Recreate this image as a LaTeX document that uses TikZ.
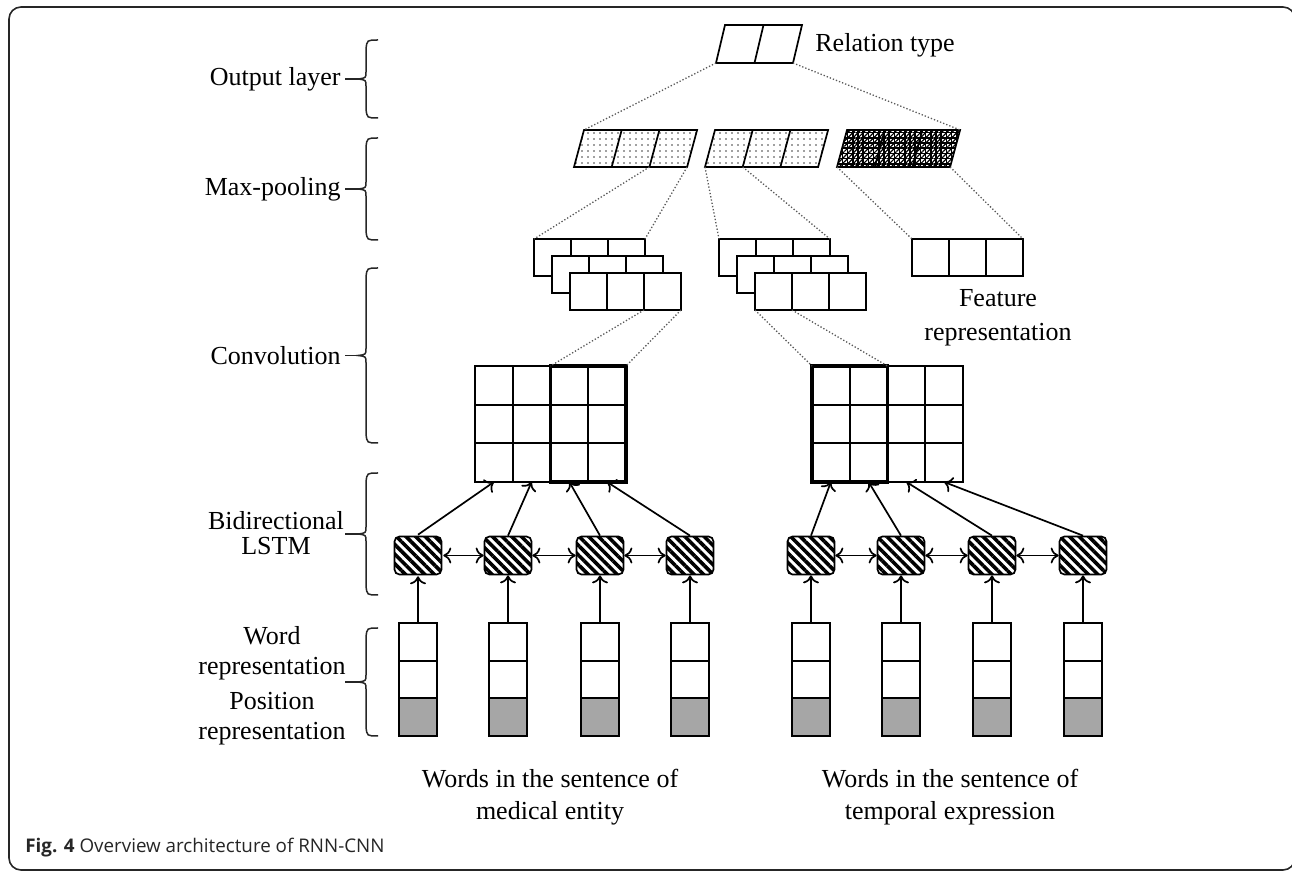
\documentclass[tikz,border=0pt]{standalone}
\usepackage{fontspec}
\setmainfont{Liberation Serif}
\newfontfamily\capfont{Open Sans}
\usetikzlibrary{arrows.meta,patterns.meta,calc}

\tikzset{
  box/.style={draw=black,line width=0.85pt},
  boldbox/.style={draw=black,line width=1.7pt},
  link/.style={draw=black!65,line width=0.65pt,densely dotted},
  arr/.style={draw=black,line width=0.85pt,-{To[length=4pt,width=8pt]}},
  biarr/.style={draw=black,line width=0.85pt,{To[length=4pt,width=8pt]}-{To[length=4pt,width=8pt]}},
  lstm/.style={draw=black,line width=0.85pt,rounded corners=2.5pt,minimum width=23.5pt,
    minimum height=19pt,inner sep=0pt,pattern={Lines[angle=-45,distance=3.4pt,line width=1.8pt]}},
  lbl/.style={font=\fontsize{13}{15}\selectfont,inner sep=0pt},
  bracestyle/.style={draw=black!85,line width=0.75pt},
  posfill/.style={fill=black!35},
  dotfill/.style={pattern={Dots[distance=3pt,radius=0.45pt]},pattern color=black!75},
}

% row of slanted cells: name, lower-left x, lower y, cells, cell width, height, slant, fill
\newcommand{\slantrow}[8]{%
  \foreach \k in {0,...,#4}{%
    \coordinate (#1-b\k) at ({#2+\k*#5},#3);
    \coordinate (#1-t\k) at ({#2+\k*#5+#7},{#3-#6});
  }
  \path[#8] (#1-b0) -- (#1-b#4) -- (#1-t#4) -- (#1-t0) -- cycle;
  \pgfmathtruncatemacro\lastcell{#4-1}
  \foreach \k in {1,...,\lastcell}{\draw[box] (#1-b\k) -- (#1-t\k);}
  \draw[box] (#1-b0) -- (#1-b#4) -- (#1-t#4) -- (#1-t0) -- cycle;
}

% row of square cells: name, left x, top y, cells, cell width, height
\newcommand{\cellrow}[6]{%
  \foreach \k in {0,...,#4}{%
    \coordinate (#1-t\k) at ({#2+\k*#5},#3);
    \coordinate (#1-b\k) at ({#2+\k*#5},{#3+#6});
  }
  \draw[box,fill=white] (#1-t0) rectangle (#1-b#4);
  \pgfmathtruncatemacro\lastcell{#4-1}
  \foreach \k in {1,...,\lastcell}{\draw[box] (#1-t\k) -- (#1-b\k);}
}

% 4 x 3 feature map: name, left x, top y
\newcommand{\fmap}[3]{%
  \foreach \c in {0,...,4}{%
    \coordinate (#1-t\c) at ({#2+\c*37.75},#3);
    \coordinate (#1-b\c) at ({#2+\c*37.75},{#3+116});
  }
  \foreach \c in {0,...,3}{\coordinate (#1-in\c) at ({#2+(\c+0.5)*37.75},{#3+116});}
  \draw[box] (#1-t0) rectangle (#1-b4);
  \foreach \c in {1,2,3}{\draw[box] (#1-t\c) -- (#1-b\c);}
  \foreach \r in {1,2}{\draw[box] ({#2},{#3+\r*38.67}) -- ({#2+151},{#3+\r*38.67});}
}

% layer brace: top y, bottom y, name of the tick end
\newcommand{\layerbrace}[3]{%
  \pgfmathsetmacro\bm{(#1+#2)/2}
  \coordinate (#3) at (345,\bm);
  \draw[bracestyle] (378,#1) .. controls (367,#1) .. (366,#1+9) -- (366,\bm-7)
    .. controls (366,\bm-1) .. (358,\bm) .. controls (366,\bm+1) .. (366,\bm+7)
    -- (366,#2-9) .. controls (367,#2) .. (378,#2);
  \draw[bracestyle] (358,\bm) -- (#3);
}

\begin{document}
\begin{tikzpicture}[x=0.5pt,y=-0.5pt]
\useasboundingbox (0,0) rectangle (1292,871);

% outer frame
\draw[black!85,line width=0.8pt,rounded corners=6pt] (9,7) rectangle (1295,870);

% output layer
\slantrow{rel}{716}{63}{2}{38.5}{38}{9}{fill=white}
\node[lbl,anchor=west] (reltxt) at (815,45) {Relation type};

% max-pooling
\slantrow{mpa}{574}{167}{3}{37.7}{37}{10}{dotfill}
\slantrow{mpb}{705}{167}{3}{37.7}{37}{10}{dotfill}
\path[pattern={Hatch[angle=0,distance=2.6pt,line width=0.75pt]}]
  (837,167) -- (950,167) -- (960,130) -- (847,130) -- cycle;
\slantrow{mpc}{837}{167}{3}{37.7}{37}{10}{pattern={Lines[angle=45,distance=1.84pt,line width=0.6pt]}}

% convolution outputs
\cellrow{ca1}{534}{239}{3}{37}{37}
\cellrow{ca2}{552}{256}{3}{37}{37}
\cellrow{ca3}{570}{273}{3}{37}{37}
\cellrow{cb1}{719}{239}{3}{37}{37}
\cellrow{cb2}{737}{256}{3}{37}{37}
\cellrow{cb3}{755}{273}{3}{37}{37}
\cellrow{fb}{912}{239}{3}{37}{37}
\node[lbl,align=center,font=\fontsize{13}{17}\selectfont] (feattxt) at (998,318) {Feature\\representation};

% feature maps
\fmap{gl}{475}{366}
\fmap{gr}{812}{366}
\draw[boldbox] (gl-t2) rectangle (gl-b4);
\draw[boldbox] (gr-t0) rectangle (gr-b2);

% dotted projections
\draw[link] (rel-b0) -- (mpa-t0);
\draw[link] (rel-b2) -- (mpc-t3);
\draw[link] (mpa-b2) -- (ca1-t0);
\draw[link] (mpa-b3) -- (ca1-t3);
\draw[link] (mpb-b0) -- (cb1-t0);
\draw[link] (mpb-b1) -- (cb1-t3);
\draw[link] (mpc-b0) -- (fb-t0);
\draw[link] (mpc-b3) -- (fb-t3);
\draw[link] (ca3-b2) -- (gl-t2);
\draw[link] (ca3-b3) -- (gl-t4);
\draw[link] (cb3-b0) -- (gr-t0);
\draw[link] (cb3-b1) -- (gr-t2);

% word columns and LSTM cells
\foreach \i/\cx in {1/418,2/508,3/600,4/690,5/811,6/901,7/992,8/1083}{
  \fill[posfill] (\cx-19,698.3) rectangle (\cx+19,736);
  \draw[box] (\cx-19,623) rectangle (\cx+19,736);
  \draw[box] (\cx-19,660.7) -- (\cx+19,660.7) (\cx-19,698.3) -- (\cx+19,698.3);
  \coordinate (w\i) at (\cx,623);
  \node[lstm] (l\i) at (\cx,555.5) {};
  \draw[arr] (w\i) -- (l\i.south);
}
\foreach \a/\b in {1/2,2/3,3/4,5/6,6/7,7/8}{\draw[biarr] (l\a.east) -- (l\b.west);}

% LSTM outputs into the feature maps
\draw[arr] (l1.north) -- (gl-in0);
\draw[arr] (l2.north) -- (gl-in1);
\draw[arr] (l3.north) -- (gl-in2);
\draw[arr] (l4.north) -- (gl-in3);
\draw[arr] (l5.north) -- (gr-in0);
\draw[arr] (l6.north) -- (gr-in1);
\draw[arr] (l7.north) -- (gr-in2);
\draw[arr] (l8.north) -- (gr-in3);

% sentence captions
\node[lbl,align=center,font=\fontsize{13}{16}\selectfont] (sentA) at (550,797) {Words in the sentence of\\medical entity};
\node[lbl,align=center,font=\fontsize{13}{16}\selectfont] (sentB) at (950,797) {Words in the sentence of\\temporal expression};

% layer braces and names
\layerbrace{40}{118}{bOut}
\layerbrace{138}{240}{bPool}
\layerbrace{268}{443}{bConv}
\layerbrace{473}{595}{bLstm}
\layerbrace{628}{736}{bWord}
\node[lbl,anchor=east] (tOut) at ($(bOut)+(-4,0)$) {Output layer};
\node[lbl,anchor=east] (tPool) at ($(bPool)+(-4,0)$) {Max-pooling};
\node[lbl,anchor=east] (tConv) at ($(bConv)+(-4,0)$) {Convolution};
\node[lbl,align=center,font=\fontsize{13}{12.5}\selectfont] (tLstm) at (276,533) {Bidirectional\\LSTM};
\node[lbl,align=center,font=\fontsize{13}{15}\selectfont] (tWord) at (272,686) {Word\\representation\\[2.5pt]Position\\representation};

% figure caption
\node[anchor=west,inner sep=0pt,text=black!85,font=\capfont\fontsize{9.4}{11}\selectfont] (cap) at (25,848)
  {\textbf{Fig. 4} Overview architecture of RNN-CNN};
\end{tikzpicture}
\end{document}
